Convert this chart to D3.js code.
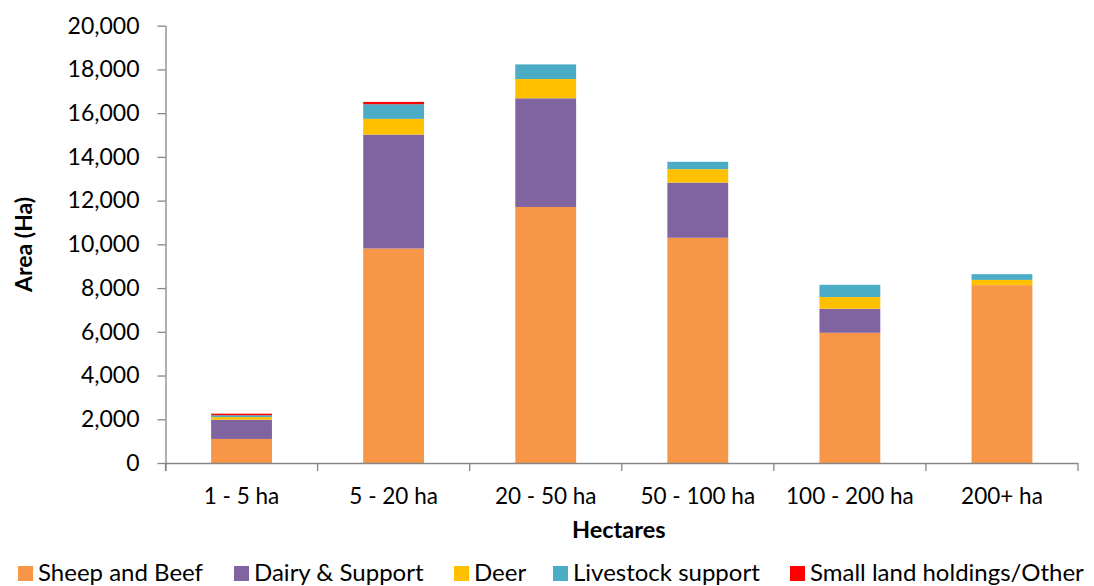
<!DOCTYPE html>
<html>
<head>
<meta charset="utf-8">
<script src="https://cdn.jsdelivr.net/npm/d3@7"></script>
<style>
  html, body { margin: 0; padding: 0; background: #fff; }
  svg { display: block; font-family: Lato, "Open Sans", sans-serif; }
</style>
</head>
<body>
<svg id="chart" width="1094" height="586"></svg>
<script>
// Farm area by holding size, stacked by land use
const categories = ["1 - 5 ha", "5 - 20 ha", "20 - 50 ha", "50 - 100 ha", "100 - 200 ha", "200+ ha"];
const seriesNames = ["Sheep and Beef", "Dairy & Support", "Deer", "Livestock support", "Small land holdings/Other"];
const sheepBeef     = [1100, 9810, 11710, 10300, 5955, 8135];
const dairySupport  = [880, 5210, 4970, 2525, 1100, 0];
const deer          = [120, 720, 880, 615, 535, 240];
const livestock     = [85, 670, 670, 335, 560, 260];
const smallHoldings = [70, 105, 0, 0, 0, 0];
const yTicks = [0, 2000, 4000, 6000, 8000, 10000, 12000, 14000, 16000, 18000, 20000];
const colors = ["#F79646", "#8064A2", "#FFC000", "#4BACC6", "#FF0000"];

const seriesValues = [sheepBeef, dairySupport, deer, livestock, smallHoldings];
const rows = categories.map((c, i) => {
  const r = { category: c };
  seriesNames.forEach((s, k) => { r[s] = seriesValues[k][i]; });
  return r;
});

const svg = d3.select("#chart");
const plotLeft = 165.5, plotRight = 1078, plotTop = 25.7, plotBottom = 463;
const axisColor = "#868686";

const x = d3.scaleBand().domain(categories).range([plotLeft, plotRight])
  .paddingInner(0.6).paddingOuter(0.3);
const y = d3.scaleLinear().domain([0, 20000]).range([plotBottom, plotTop]);

const stack = d3.stack().keys(seriesNames)(rows);

// stacked bars
svg.append("g").selectAll("g").data(stack).join("g")
  .attr("fill", (d, i) => colors[i])
  .selectAll("rect").data(d => d).join("rect")
  .attr("x", d => x(d.data.category))
  .attr("width", x.bandwidth())
  .attr("y", d => y(d[1]))
  .attr("height", d => y(d[0]) - y(d[1]));

// y axis
const yAxis = svg.append("g").attr("transform", `translate(${plotLeft},0)`)
  .call(d3.axisLeft(y).tickValues(yTicks).tickSize(8).tickSizeOuter(0)
    .tickPadding(18).tickFormat(d3.format(",")));
yAxis.select(".domain").attr("stroke", axisColor).attr("stroke-width", 1.3)
  .attr("d", `M0.5,${plotTop}V${plotBottom + 8}`);
yAxis.selectAll(".tick line").attr("stroke", axisColor).attr("stroke-width", 1.3);
yAxis.selectAll(".tick text").attr("font-size", 23).attr("fill", "#000")
  .attr("font-family", "Lato, sans-serif");

// x axis: labels centred under bars, ticks at category boundaries
const xAxis = svg.append("g").attr("transform", `translate(0,${plotBottom})`)
  .call(d3.axisBottom(x).tickSize(0).tickPadding(25).tickSizeOuter(0));
xAxis.select(".domain").attr("stroke", axisColor).attr("stroke-width", 1.3)
  .attr("d", `M${plotLeft},0.5H${plotRight}`);
xAxis.selectAll(".tick text").attr("font-size", 22.5).attr("fill", "#000")
  .attr("font-family", "Lato, sans-serif");
const step = x.step();
const bounds = d3.range(categories.length + 1).map(i => plotLeft + i * step);
xAxis.selectAll("line.bound").data(bounds).join("line")
  .attr("class", "bound")
  .attr("x1", d => d).attr("x2", d => d)
  .attr("y1", 0).attr("y2", 8)
  .attr("stroke", axisColor).attr("stroke-width", 1.3);

// axis titles
svg.append("text")
  .attr("x", (plotLeft + plotRight) / 2 - 3).attr("y", 538)
  .attr("text-anchor", "middle").attr("font-size", 23.5).attr("font-weight", "bold")
  .text("Hectares");
svg.append("text")
  .attr("transform", `translate(32,${(plotTop + plotBottom) / 2}) rotate(-90)`)
  .attr("text-anchor", "middle").attr("font-size", 23).attr("font-weight", "bold")
  .text("Area (Ha)");

// legend
const legendX = [18, 234, 454, 553, 790];
const legend = svg.append("g").selectAll("g").data(seriesNames).join("g")
  .attr("transform", (d, i) => `translate(${legendX[i]},566)`);
legend.append("rect").attr("width", 15).attr("height", 15)
  .attr("fill", (d, i) => colors[i]);
legend.append("text").attr("x", 20).attr("y", 14.5)
  .attr("font-size", 24).attr("fill", "#000").text(d => d);
</script>
</body>
</html>
